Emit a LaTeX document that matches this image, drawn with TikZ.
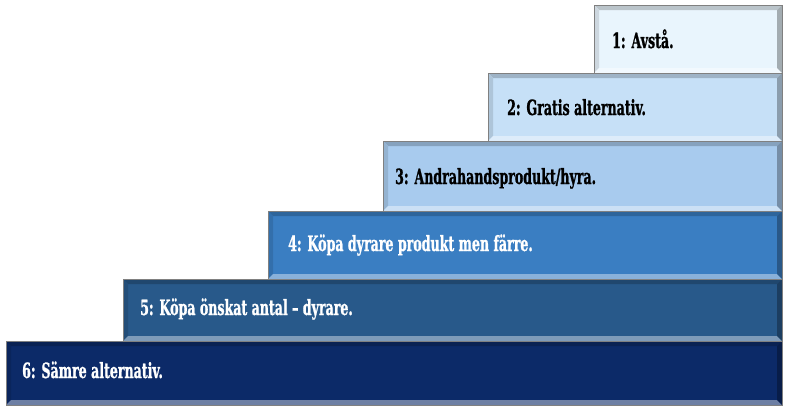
\documentclass[tikz,border=0pt]{standalone}
\usepackage{fontspec}
\setmainfont{DejaVu Serif}[FakeStretch=0.6, BoldFeatures={FakeBold=1}]
\usepackage{xcolor}
\usepackage{tikz}
\definecolor{stepone}{RGB}{233, 245, 253}
\definecolor{steptwo}{RGB}{198, 224, 247}
\definecolor{stepthree}{RGB}{168, 203, 238}
\definecolor{stepfour}{RGB}{58, 126, 194}
\definecolor{stepfive}{RGB}{40, 89, 138}
\definecolor{stepsix}{RGB}{12, 42, 104}

\begin{document}
\begin{tikzpicture}[x=1pt, y=-1pt]
    \useasboundingbox (0,0) rectangle (787,410);
    % Stairs, top step first
    \foreach \n/\xl/\yt/\yb/\col/\tc/\tx/\bl/\txt in {
        1/594/5/73/stepone/black/612/48/{1: Avstå.},
        2/488/73/141/steptwo/black/507/115/{2: Gratis alternativ.},
        3/383/141/211/stepthree/black/395/184/{3: Andrahandsprodukt/hyra.},
        4/268/211/279/stepfour/white/288/251/{4: Köpa dyrare produkt men färre.},
        5/123/279/341/stepfive/white/140/315/{5: Köpa önskat antal – dyrare.},
        6/6/341/405/stepsix/white/22/378/{6: Sämre alternativ.}} {
        \fill[\col] (\xl,\yt) rectangle (782,\yb);
        % bevel
        \fill[\col!80!black] (\xl,\yt) -- (782,\yt) -- (777,\yt+5) -- (\xl+5,\yt+5) -- cycle;
        \fill[\col!88!black] (\xl,\yt) -- (\xl+5,\yt+5) -- (\xl+5,\yb-5) -- (\xl,\yb) -- cycle;
        \fill[\col!60!white] (\xl,\yb) -- (\xl+5,\yb-5) -- (777,\yb-5) -- (782,\yb) -- cycle;
        \fill[\col!70!black] (782,\yt) -- (777,\yt+5) -- (777,\yb-5) -- (782,\yb) -- cycle;
        \draw[black!50, line width=0.6pt] (\xl,\yt) rectangle (782,\yb);
        \node[anchor=base west, inner sep=0pt, text=\tc, font=\fontsize{21}{24}\selectfont\bfseries] (lbl\n) at (\tx,\bl) {\txt};
    }
\end{tikzpicture}
\end{document}
